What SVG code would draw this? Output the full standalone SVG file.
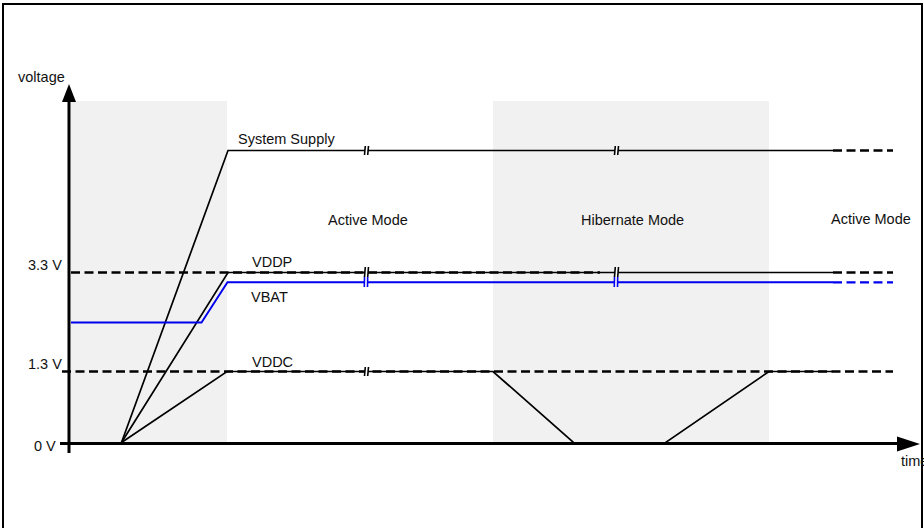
<svg xmlns="http://www.w3.org/2000/svg" width="924" height="528" viewBox="0 0 924 528">
<defs>
<style>
text{font-family:"Liberation Sans",Arial,sans-serif;font-size:14.5px;fill:#111}
.bg{fill:#f1f1f1}
.ln{fill:none;stroke:#000;stroke-width:1.7}
.bl{fill:none;stroke:#0000ee;stroke-width:1.9}
.ds{fill:none;stroke:#000;stroke-width:2.3;stroke-dasharray:9 4.5}
.dsb{fill:none;stroke:#0000ee;stroke-width:2.3;stroke-dasharray:9 4.5}
.ax{fill:none;stroke:#000;stroke-width:3}
.gap{fill:#fff}
.bk{stroke:#000;stroke-width:1.6}
.bkb{stroke:#0000ee;stroke-width:1.6}
</style>
</defs>
<rect width="924" height="528" fill="#fff"/>
<path d="M3,528 V4 H922 V528" fill="none" stroke="#000" stroke-width="2"/>
<g id="regions">
<rect class="bg" x="71" y="101" width="156" height="342"/>
<rect class="bg" x="493" y="101" width="276" height="342"/>
</g>
<g id="levels">
<line class="ds" x1="71" y1="272.5" x2="600" y2="272.5"/>
<line class="ds" x1="62" y1="371.5" x2="893" y2="371.5"/>
</g>
<g id="connectors">
<g id="system-supply">
<polyline class="ln" points="121.5,442.5 228,150.5 833,150.5"/>
<line class="ds" x1="833" y1="150.5" x2="893" y2="150.5"/>
</g>
<g id="vddp">
<polyline class="ln" points="121.5,442.5 228,272.5 833,272.5"/>
<line class="ds" x1="833" y1="272.5" x2="893" y2="272.5"/>
</g>
<g id="vbat">
<polyline class="bl" points="71,322.5 201.5,322.5 227.5,282.3 833,282.3"/>
<line class="dsb" x1="833" y1="282.3" x2="893" y2="282.3"/>
</g>
<g id="vddc">
<polyline class="ln" points="121.5,442.5 227,371.5 493,371.5 574,443 665,443 769,371.5 833,371.5"/>
</g>
</g>
<g id="breaks">
<rect class="gap" x="365" y="146" width="3" height="9"/>
<line class="bk" x1="364.5" y1="155" x2="365.3" y2="146"/>
<line class="bk" x1="367.7" y1="155" x2="368.5" y2="146"/>
<rect class="gap" x="615" y="146" width="3" height="9"/>
<line class="bk" x1="614.5" y1="155" x2="615.3" y2="146"/>
<line class="bk" x1="617.7" y1="155" x2="618.5" y2="146"/>
<rect class="gap" x="365" y="267" width="3" height="20"/>
<line class="bk" x1="364.5" y1="277" x2="365.3" y2="267"/>
<line class="bk" x1="367.7" y1="277" x2="368.5" y2="267"/>
<line class="bkb" x1="364.3" y1="287" x2="364.5" y2="277"/>
<line class="bkb" x1="367.5" y1="287" x2="367.7" y2="277"/>
<rect class="gap" x="615" y="267" width="3" height="20"/>
<line class="bk" x1="614.5" y1="277" x2="615.3" y2="267"/>
<line class="bk" x1="617.7" y1="277" x2="618.5" y2="267"/>
<line class="bkb" x1="614.3" y1="287" x2="614.5" y2="277"/>
<line class="bkb" x1="617.5" y1="287" x2="617.7" y2="277"/>
<rect class="gap" x="365" y="367" width="3" height="9"/>
<line class="bk" x1="364.5" y1="376" x2="365.3" y2="367"/>
<line class="bk" x1="367.7" y1="376" x2="368.5" y2="367"/>
</g>
<g id="axes">
<line class="ax" x1="69" y1="453" x2="69" y2="100"/>
<polygon points="69,84 62,102 76,102" fill="#000"/>
<line class="ax" x1="60" y1="443.5" x2="900" y2="443.5"/>
<polygon points="920,444 897,436.5 897,451.5" fill="#000"/>
</g>
<g id="labels">
<text x="18" y="82">voltage</text>
<text x="28" y="270">3.3 V</text>
<text x="28" y="369">1.3 V</text>
<text x="34" y="451">0 V</text>
<text x="901" y="466">time</text>
<text x="238" y="144">System Supply</text>
<text x="252" y="266.5">VDDP</text>
<text x="251" y="302">VBAT</text>
<text x="252" y="367">VDDC</text>
<text x="328" y="225">Active Mode</text>
<text x="581" y="225">Hibernate Mode</text>
<text x="831" y="224">Active Mode</text>
</g>
</svg>
